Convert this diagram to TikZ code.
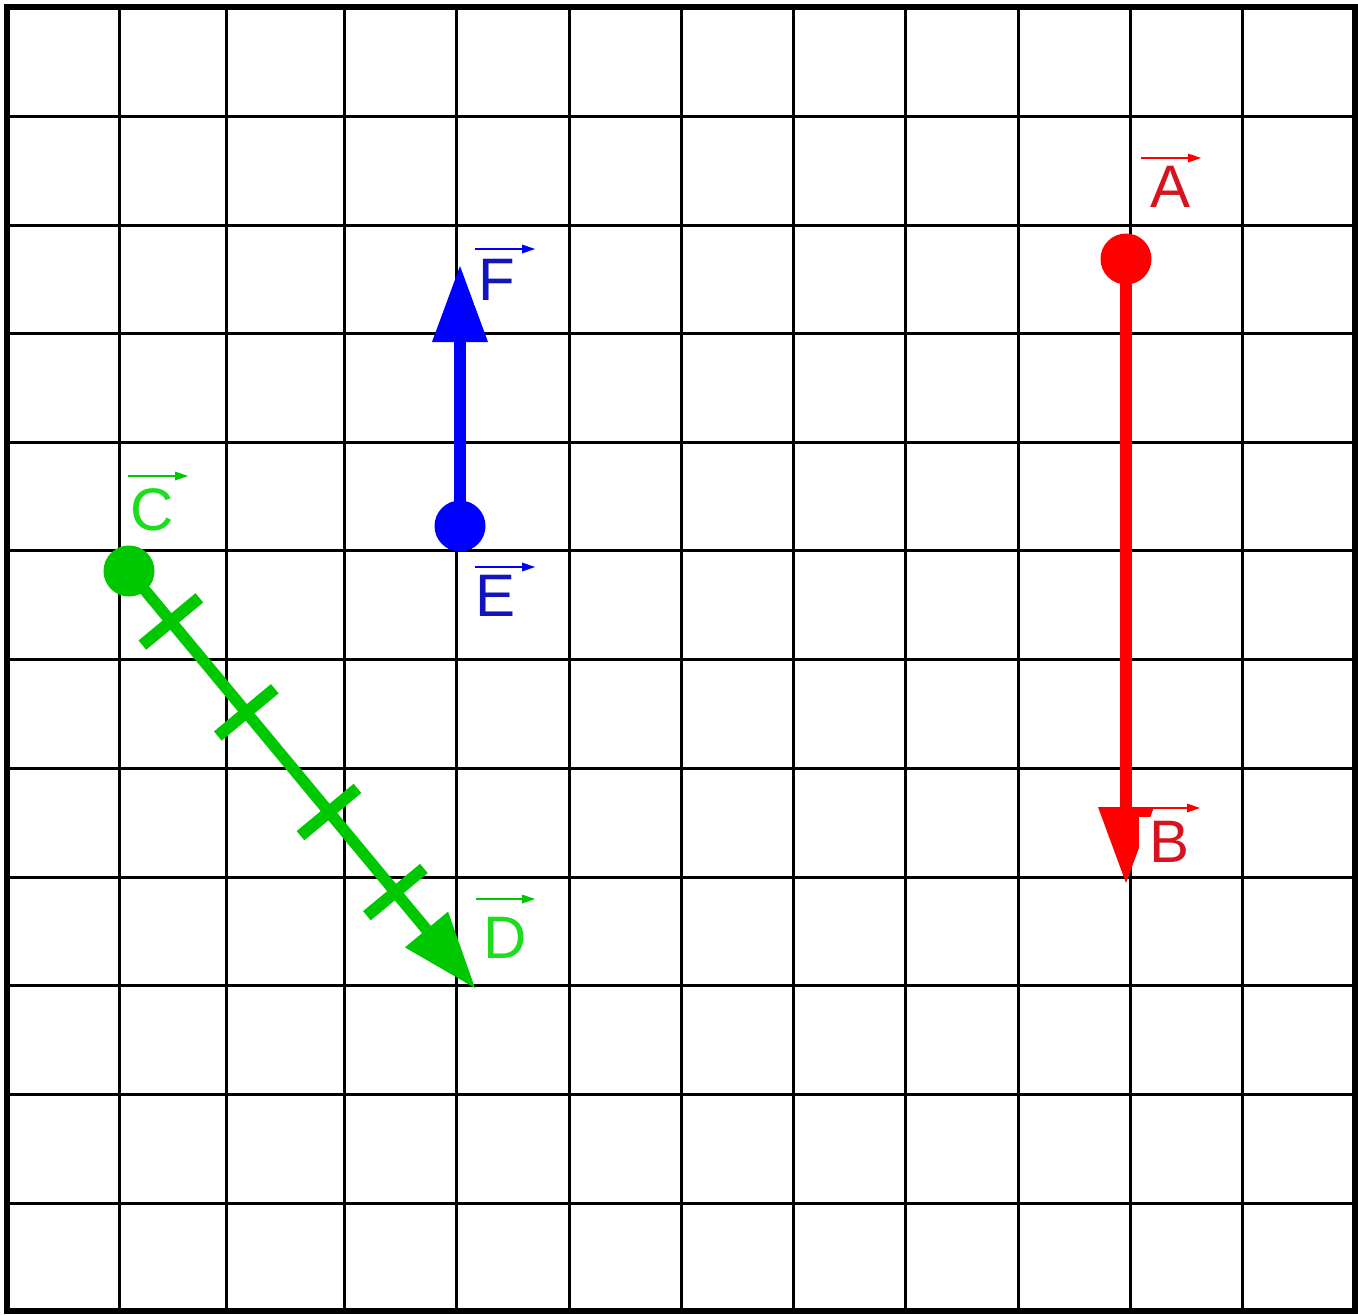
\documentclass[tikz,border=0pt]{standalone}
\usepackage{fontspec}
\setmainfont{Liberation Sans}
\usetikzlibrary{arrows.meta,calc,backgrounds}
\definecolor{vred}{RGB}{255,0,0}
\definecolor{tred}{RGB}{215,20,30}
\definecolor{vblue}{RGB}{0,0,255}
\definecolor{tblue}{RGB}{20,20,190}
\definecolor{vgreen}{RGB}{0,200,0}
\definecolor{tgreen}{RGB}{30,220,30}
\begin{document}
\begin{tikzpicture}[x=1pt,y=-1pt,
  gridline/.style={line width=3pt,draw=black},
  frameline/.style={line width=6pt,draw=black},
  dot/.style={circle,fill=#1,minimum size=51pt,inner sep=0pt},
  vec/.style={line width=11.5pt,draw=#1,-{Triangle[length=76pt,width=56pt,line width=0pt]}},
  lab/.style={text=#1,fill=white,inner xsep=5pt,inner ysep=4pt,font=\fontsize{60}{60}\selectfont},
  over/.style={draw=#1,line width=2pt,-{Triangle[length=13pt,width=9pt,line width=0pt]}},
  tickmark/.style={line width=12pt,draw=vgreen}]
\useasboundingbox (0,0) rectangle (1358,1315);
% end points and dots
\node[dot=vred] (a) at (1126,259) {};
\coordinate (b) at (1126,883);
\node[dot=vblue] (e) at (460,526) {};
\coordinate (f) at (460,266);
\node[dot=vgreen] (c) at (129,571) {};
\coordinate (d) at (475,988);
\begin{scope}[on background layer]
  \fill[white] (0,0) rectangle (1358,1315);
  \foreach \x in {119.5,226,344.5,456.5,569,681,793,905,1018,1130,1242}
    \draw[gridline] (\x,7) -- (\x,1310.5);
  \foreach \y in {116,225,333,442,550,659,768,877,985,1094,1203}
    \draw[gridline] (7,\y) -- (1354.5,\y);
  \draw[frameline] (7,7) rectangle (1354.5,1310.5);
  \draw[vec=vred] (a.center) -- (b);
  \draw[vec=vblue] (e.center) -- (f);
  \draw[vec=vgreen] (c.center) -- (d);
  \foreach \t in {0.121,0.339,0.578,0.770}{
    \coordinate (tk) at ($(c.center)!\t!(d)$);
    \draw[tickmark] ($(tk)!37pt!90:(d)$) -- ($(tk)!37pt!-90:(d)$);
  }
\end{scope}
% labels
\node[lab=tred] (lA) at (1170,187) {A};
\node[lab=tred,inner xsep=10pt] (lB) at (1169,842) {B};
\node[lab=tblue] (lF) at (497,280) {F};
\node[lab=tblue] (lE) at (496,596) {E};
\node[lab=tgreen] (lC) at (152,510) {C};
\node[lab=tgreen] (lD) at (505,938) {D};
% arrows over the letters
\draw[over=vred] ($(lA.center)+(-29,-29)$) -- ($(lA.center)+(31,-29)$);
\draw[over=vred] ($(lB.center)+(-28,-34)$) -- ($(lB.center)+(31,-34)$);
\draw[over=vblue] ($(lF.center)+(-22,-31)$) -- ($(lF.center)+(38,-31)$);
\draw[over=vblue] ($(lE.center)+(-21,-29)$) -- ($(lE.center)+(39,-29)$);
\draw[over=vgreen] ($(lC.center)+(-24,-34)$) -- ($(lC.center)+(36,-34)$);
\draw[over=vgreen] ($(lD.center)+(-29,-39)$) -- ($(lD.center)+(30,-39)$);
\end{tikzpicture}
\end{document}
